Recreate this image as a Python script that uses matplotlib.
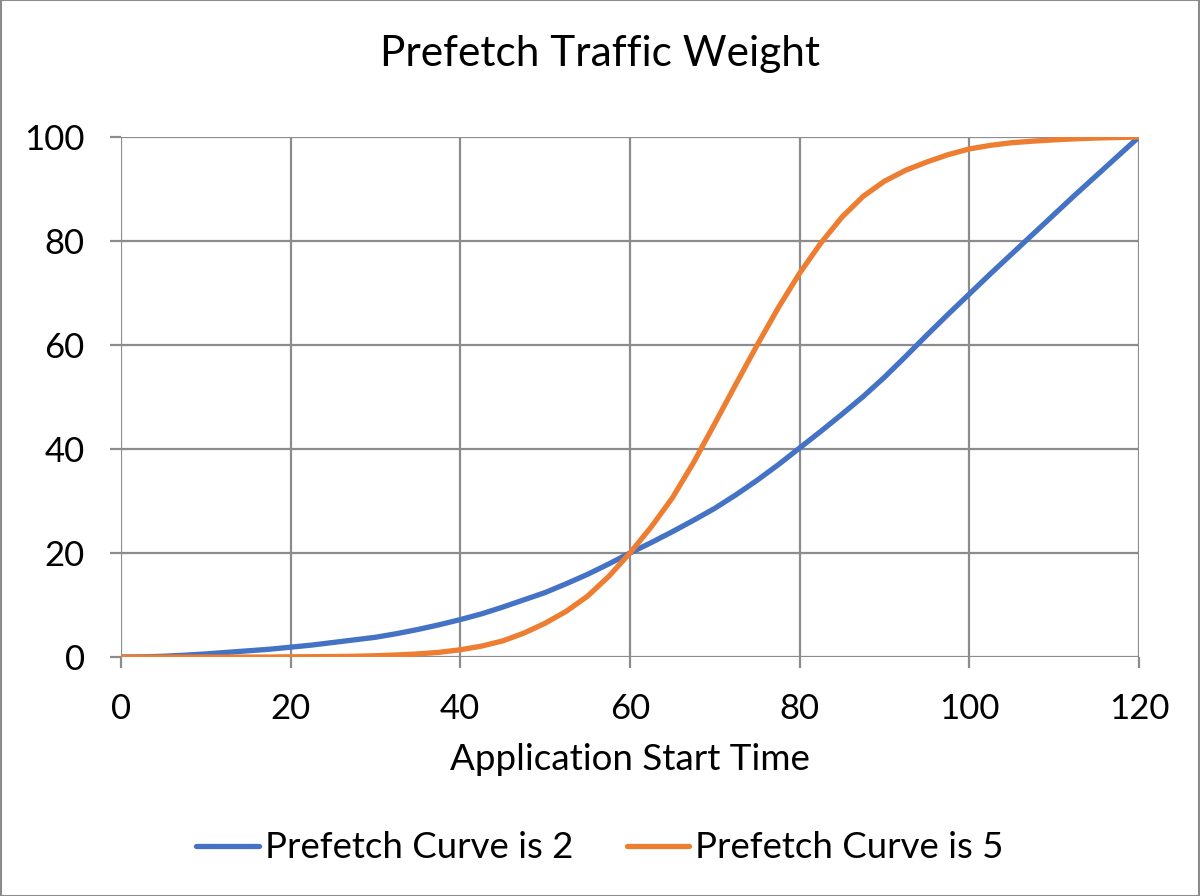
import matplotlib
matplotlib.use("Agg")
import matplotlib.pyplot as plt
from matplotlib.patches import Rectangle

# data (every 2.5 time units)
start_time = [0, 2.5, 5, 7.5, 10, 12.5, 15, 17.5, 20, 22.5, 25, 27.5, 30, 32.5,
              35, 37.5, 40, 42.5, 45, 47.5, 50, 52.5, 55, 57.5, 60, 62.5, 65,
              67.5, 70, 72.5, 75, 77.5, 80, 82.5, 85, 87.5, 90, 92.5, 95, 97.5,
              100, 102.5, 105, 107.5, 110, 112.5, 115, 117.5, 120]
curve_2 = [0, 0.04, 0.15, 0.35, 0.6, 0.9, 1.2, 1.5, 1.9, 2.3, 2.8, 3.3, 3.8, 4.5,
           5.3, 6.2, 7.2, 8.3, 9.6, 11, 12.4, 14.1, 15.9, 17.9, 20, 22, 24.1,
           26.3, 28.6, 31.2, 34, 37, 40.2, 43.4, 46.7, 50.1, 53.8, 57.8, 61.9, 65.9,
           69.8, 73.7, 77.5, 81.3, 85.1, 88.9, 92.6, 96.3, 100]
curve_5 = [0, 0, 0, 0, 0, 0, 0, 0, 0.05, 0.07, 0.1, 0.15, 0.25, 0.4,
           0.6, 0.9, 1.4, 2.1, 3.1, 4.6, 6.5, 8.8, 11.7, 15.5, 20, 25, 30.6,
           37.4, 44.9, 52.5, 60, 67.2, 73.8, 79.6, 84.6, 88.6, 91.5, 93.6, 95.2, 96.6,
           97.7, 98.4, 98.9, 99.2, 99.45, 99.65, 99.8, 99.9, 100]
series_names = ["Prefetch Curve is 2", "Prefetch Curve is 5"]
x_ticks = [0, 20, 40, 60, 80, 100, 120]
y_ticks = [0, 20, 40, 60, 80, 100]

plt.rcParams['font.family'] = ['Lato', 'DejaVu Sans']

fig = plt.figure(figsize=(12, 8.96), dpi=100)
ax = fig.add_axes([0.1008, 0.2667, 0.8483, 0.5804])

grid_col = '#8c8c8c'
ax.plot(start_time, curve_2, color='#4472C4', lw=3.8, label=series_names[0],
        solid_capstyle='round', solid_joinstyle='round', zorder=3)
ax.plot(start_time, curve_5, color='#ED7D31', lw=3.8, label=series_names[1],
        solid_capstyle='round', solid_joinstyle='round', zorder=3)

ax.set_xlim(0, 120)
ax.set_ylim(0, 100)
ax.set_xticks(x_ticks)
ax.set_yticks(y_ticks)
ax.grid(True, color=grid_col, lw=1.6)
for s in ax.spines.values():
    s.set_visible(False)
ax.tick_params(axis='both', color=grid_col, width=1.6, length=8, labelsize=25)
ax.tick_params(axis='y', pad=18)
ax.tick_params(axis='x', pad=18)

ax.set_xlabel("Application Start Time", fontsize=26.5, labelpad=13)
fig.text(0.5, 0.94, "Prefetch Traffic Weight", ha='center', va='center', fontsize=30.5)

ax.legend(loc='center', bbox_to_anchor=(0.5, 0.0536), bbox_transform=fig.transFigure,
          ncol=2, frameon=False, fontsize=26.4, handlelength=1.7, handletextpad=0.17,
          columnspacing=1.45)

fig.patches.append(Rectangle((0.0005, 0.0005), 0.999, 0.999, transform=fig.transFigure,
                             fill=False, edgecolor='#8c8c8c', lw=1.5))

fig.savefig("out.png", dpi=100, facecolor='white')
